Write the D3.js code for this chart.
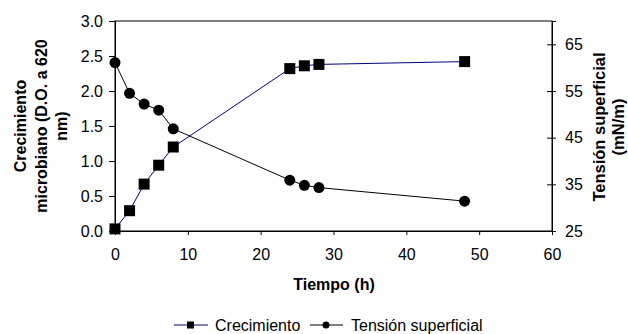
<!DOCTYPE html>
<html><head><meta charset="utf-8">
<script src="https://cdn.jsdelivr.net/npm/d3@7"></script>
<style>body{margin:0;background:#fff}svg{display:block}text{font-family:"Liberation Sans",Arial,sans-serif}</style>
</head><body>
<svg id="c" width="628" height="334"></svg>
<script>
const tiempo = [0, 2, 4, 6, 8, 24, 26, 28, 48];
const crecimiento = [0.03, 0.29, 0.67, 0.94, 1.20, 2.32, 2.36, 2.38, 2.42];
const tension = [61.1, 54.5, 52.2, 50.9, 46.9, 35.9, 34.8, 34.3, 31.4];
const xTicks = [0, 10, 20, 30, 40, 50, 60];
const yLeftTicks = [0, 0.5, 1.0, 1.5, 2.0, 2.5, 3.0];
const yRightTicks = [25, 35, 45, 55, 65];

const svg = d3.select("#c");
const L = 115, R = 552, T = 21, B = 231;
const x = d3.scaleLinear().domain([0, 60]).range([L, R]);
const yL = d3.scaleLinear().domain([0, 3]).range([B, T]);
const yR = d3.scaleLinear().domain([25, 70]).range([B, T]);

// plot frame
svg.append("rect").attr("x", L).attr("y", T).attr("width", R - L).attr("height", B - T)
  .attr("fill", "none").attr("stroke", "#000").attr("stroke-width", 1);

const fs = 16;
const gx = svg.append("g").attr("transform", `translate(0,${B})`)
  .call(d3.axisBottom(x).tickValues(xTicks).tickFormat(d3.format("d")).tickSizeOuter(0).tickSize(4).tickPadding(14));
const gl = svg.append("g").attr("transform", `translate(${L},0)`)
  .call(d3.axisLeft(yL).tickValues(yLeftTicks).tickFormat(d3.format(".1f")).tickSizeOuter(0).tickSize(6).tickPadding(6));
const gr = svg.append("g").attr("transform", `translate(${R},0)`)
  .call(d3.axisRight(yR).tickValues(yRightTicks).tickFormat(d3.format("d")).tickSizeOuter(0).tickSize(4).tickPadding(9));
gr.selectAll(".tick line").attr("x1", -5).attr("x2", 4);
[gx, gl, gr].forEach(g => {
  g.select(".domain").attr("stroke", "#000");
  g.selectAll(".tick line").attr("stroke", "#000");
  g.selectAll("text").attr("font-size", fs).attr("fill", "#000").attr("font-family", "Liberation Sans, Arial, sans-serif");
});

// lines
const lineC = d3.line().x((d, i) => x(tiempo[i])).y(d => yL(d));
const lineT = d3.line().x((d, i) => x(tiempo[i])).y(d => yR(d));
svg.append("path").attr("d", lineC(crecimiento)).attr("fill", "none").attr("stroke", "#000080").attr("stroke-width", 1);
svg.append("path").attr("d", lineT(tension)).attr("fill", "none").attr("stroke", "#000").attr("stroke-width", 1);

const sq = 11;
svg.append("g").selectAll("rect").data(crecimiento).join("rect")
  .attr("x", (d, i) => x(tiempo[i]) - sq / 2).attr("y", d => yL(d) - sq / 2)
  .attr("width", sq).attr("height", sq).attr("fill", "#000");
svg.append("g").selectAll("circle").data(tension).join("circle")
  .attr("cx", (d, i) => x(tiempo[i])).attr("cy", d => yR(d)).attr("r", 5.5).attr("fill", "#000");

// axis titles
const lt = svg.append("g").attr("font-weight", "bold").attr("font-size", 16).attr("text-anchor", "middle");
[["Crecimiento", 26], ["microbiano (D.O. a 620", 47], ["nm)", 67]].forEach(([t, xx]) => {
  lt.append("text").attr("transform", `translate(${xx},126) rotate(-90)`).text(t);
});
const rt = svg.append("g").attr("font-weight", "bold").attr("font-size", 16.5).attr("text-anchor", "middle");
[["Tensión superficial", 605], ["(mN/m)", 624]].forEach(([t, xx]) => {
  rt.append("text").attr("transform", `translate(${xx},127) rotate(-90)`).text(t);
});
svg.append("text").attr("x", 334).attr("y", 290).attr("text-anchor", "middle")
  .attr("font-weight", "bold").attr("font-size", 16).text("Tiempo (h)");

// legend
const lg = svg.append("g").attr("font-size", 16);
const ly = 325;
lg.append("line").attr("x1", 174).attr("x2", 208).attr("y1", ly).attr("y2", ly).attr("stroke", "#000080");
lg.append("rect").attr("x", 187).attr("y", ly - 3.5).attr("width", 7).attr("height", 7).attr("fill", "#000");
lg.append("text").attr("x", 215).attr("y", ly + 5.5).text("Crecimiento");
lg.append("line").attr("x1", 310).attr("x2", 343).attr("y1", ly).attr("y2", ly).attr("stroke", "#000");
lg.append("circle").attr("cx", 326).attr("cy", ly).attr("r", 3.5).attr("fill", "#000");
lg.append("text").attr("x", 351).attr("y", ly + 5.5).text("Tensión superficial");
</script>
</body></html>
